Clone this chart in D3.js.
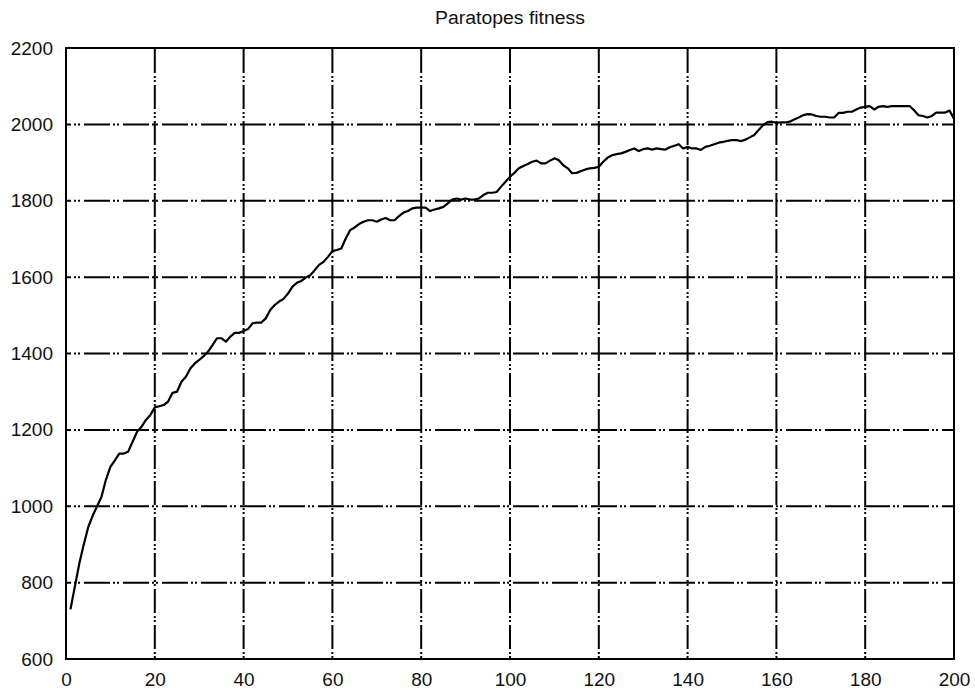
<!DOCTYPE html>
<html>
<head>
<meta charset="utf-8">
<title>Paratopes fitness</title>
<script src="https://cdn.jsdelivr.net/npm/d3@7"></script>
<style>
	html, body { margin: 0; padding: 0; background: #fff; }
	.tick text { font-family: "Liberation Sans", Arial, sans-serif; font-size: 19px; fill: #111; }
	.title { font-family: "Liberation Sans", Arial, sans-serif; font-size: 18px; fill: #111; }
	.grid line { stroke: #000; stroke-width: 2; }
	.grid.h line { stroke-dasharray: 26,3,2,2,2,4; stroke-dashoffset: 21; }
	.grid.v line { stroke-dasharray: 24,3,2,2,2,3; stroke-dashoffset: 26; }
</style>
</head>
<body>
<div id="chart"></div>
<script>
"use strict";

// fitness per generation, generation = index + 1
var fitness = [
	730, 790, 850, 900, 945, 975, 1000, 1025, 1070, 1103,
	1120, 1138, 1138, 1143, 1169, 1195, 1208, 1226, 1239, 1259,
	1262, 1265, 1274, 1297, 1300, 1326, 1339, 1361, 1374, 1383,
	1393, 1405, 1422, 1440, 1440, 1431, 1444, 1454, 1454, 1459,
	1464, 1479, 1481, 1481, 1492, 1514, 1527, 1536, 1543, 1557,
	1575, 1585, 1590, 1599, 1605, 1618, 1632, 1640, 1653, 1668,
	1671, 1675, 1701, 1723, 1730, 1739, 1745, 1749, 1749, 1745,
	1751, 1755, 1749, 1749, 1760, 1769, 1773, 1780, 1782, 1782,
	1782, 1773, 1777, 1780, 1784, 1793, 1803, 1806, 1803, 1806,
	1803, 1803, 1806, 1815, 1821, 1821, 1823, 1837, 1850, 1863,
	1873, 1885, 1891, 1896, 1902, 1905, 1898, 1898, 1905, 1911,
	1906, 1893, 1885, 1872, 1873, 1878, 1882, 1885, 1886, 1889,
	1902, 1913, 1919, 1922, 1924, 1928, 1933, 1937, 1930, 1935,
	1937, 1934, 1937, 1935, 1934, 1940, 1944, 1948, 1937, 1941,
	1937, 1937, 1933, 1941, 1944, 1948, 1952, 1954, 1957, 1959,
	1959, 1956, 1960, 1966, 1972, 1985, 1998, 2006, 2007, 2004,
	2005, 2005, 2007, 2013, 2018, 2024, 2027, 2026, 2022, 2020,
	2020, 2018, 2018, 2030, 2030, 2033, 2033, 2039, 2044, 2046,
	2048, 2039, 2046, 2048, 2046, 2048, 2048, 2048, 2048, 2048,
	2037, 2024, 2022, 2018, 2022, 2031, 2031, 2031, 2036, 2015
];

var xTicks = [0, 20, 40, 60, 80, 100, 120, 140, 160, 180, 200];
var yTicks = [600, 800, 1000, 1200, 1400, 1600, 1800, 2000, 2200];
var titleText = "Paratopes fitness";

var viewWidth = 975,
	viewHeight = 691,
	margins = {top: 48, right: 21, bottom: 32, left: 66};

var graphWidth = viewWidth - margins.left - margins.right,
	graphHeight = viewHeight - margins.top - margins.bottom;

var svg = d3.select("#chart").append("svg")
	.attr("width", viewWidth)
	.attr("height", viewHeight);

var g = svg.append("g")
	.attr("transform", "translate(" + margins.left + "," + margins.top + ")");

var x = d3.scaleLinear().domain([0, 200]).range([0, graphWidth]);
var y = d3.scaleLinear().domain([600, 2200]).range([graphHeight, 0]);

// grid lines, drawn bottom-up and left-right
g.append("g")
	.attr("class", "grid v")
	.selectAll("line")
	.data(xTicks.slice(1, -1))
	.enter().append("line")
		.attr("x1", function(d) { return x(d); })
		.attr("x2", function(d) { return x(d); })
		.attr("y1", graphHeight)
		.attr("y2", 0);

g.append("g")
	.attr("class", "grid h")
	.selectAll("line")
	.data(yTicks.slice(1, -1))
	.enter().append("line")
		.attr("x1", 0)
		.attr("x2", graphWidth)
		.attr("y1", function(d) { return y(d); })
		.attr("y2", function(d) { return y(d); });

// axes, labels only (frame drawn separately)
var xAxis = g.append("g")
	.attr("transform", "translate(0," + graphHeight + ")")
	.call(d3.axisBottom(x).tickValues(xTicks).tickSize(0).tickPadding(14).tickFormat(d3.format("d")));
xAxis.select(".domain").remove();

var yAxis = g.append("g")
	.call(d3.axisLeft(y).tickValues(yTicks).tickSize(0).tickPadding(13).tickFormat(d3.format("d")));
yAxis.select(".domain").remove();

g.append("rect")
	.attr("x", 0)
	.attr("y", 0)
	.attr("width", graphWidth)
	.attr("height", graphHeight)
	.attr("fill", "none")
	.attr("stroke", "#000")
	.attr("stroke-width", 2);

var line = d3.line()
	.x(function(d, i) { return x(i + 1); })
	.y(function(d) { return y(d); });

g.append("path")
	.datum(fitness)
	.attr("fill", "none")
	.attr("stroke", "#000")
	.attr("stroke-width", 2.2)
	.attr("stroke-linejoin", "round")
	.attr("d", line);

svg.append("text")
	.attr("class", "title")
	.attr("x", margins.left + graphWidth / 2)
	.attr("y", 24)
	.attr("text-anchor", "middle")
	.attr("textLength", 150)
	.attr("lengthAdjust", "spacingAndGlyphs")
	.text(titleText);
</script>
</body>
</html>
